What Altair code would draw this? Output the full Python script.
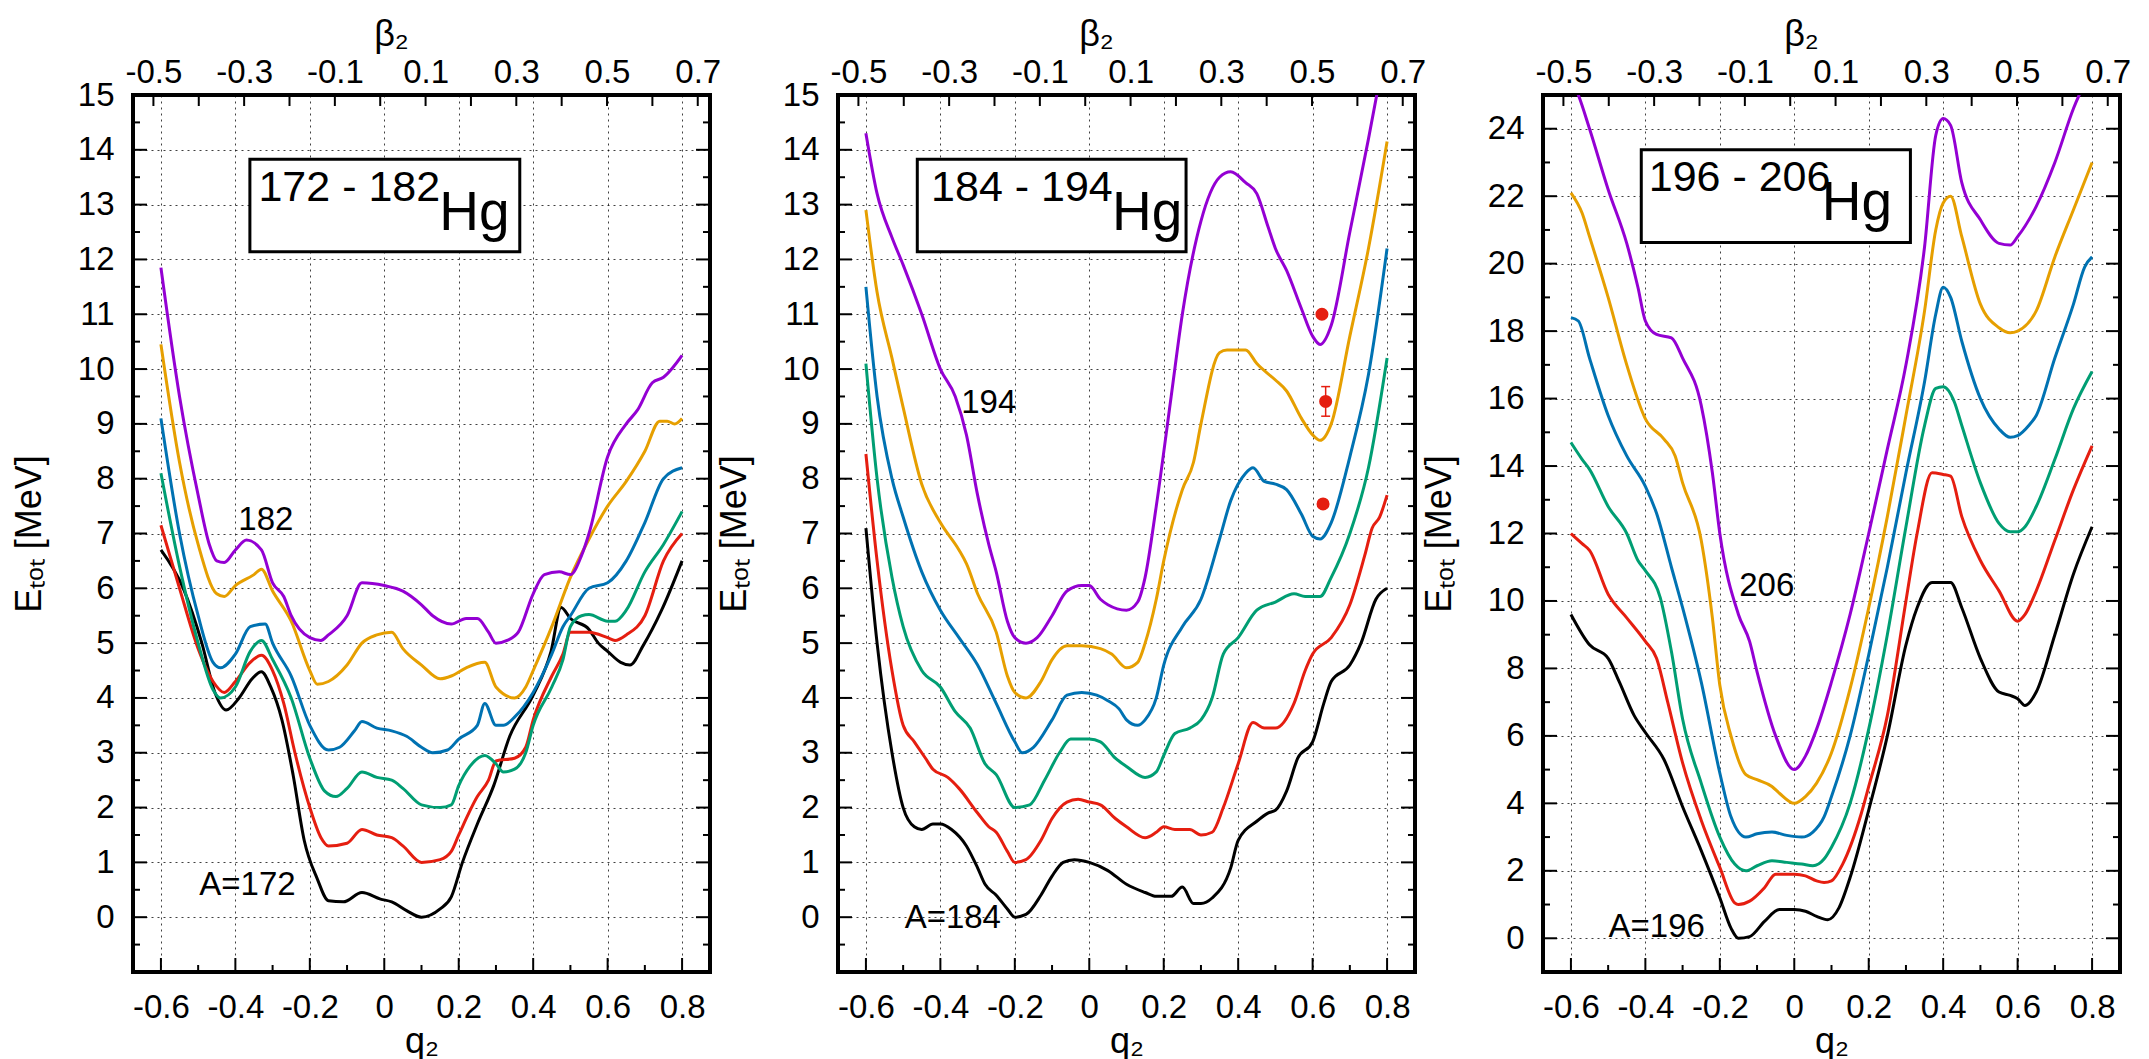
import altair as alt
import pandas as pd

FONT = "Liberation Sans"
COLORS = ["#000000", "#e51e10", "#009e73", "#0072b2", "#e69f00", "#9400d3"]

# ---------------- Panel 1 : 172-182 Hg ----------------
P1_172_Q = [-0.6, -0.54, -0.49, -0.455, -0.425, -0.39, -0.355, -0.33, -0.305, -0.275, -0.245, -0.215, -0.18, -0.15, -0.11, -0.06, -0.01, 0.02, 0.06, 0.1, 0.15, 0.18, 0.21, 0.25, 0.294, 0.337, 0.4, 0.448, 0.475, 0.5, 0.55, 0.575, 0.6, 0.635, 0.66, 0.695, 0.745, 0.8]
P1_172_E = [6.7, 6.0, 5.0, 4.1, 3.78, 4.0, 4.35, 4.48, 4.2, 3.6, 2.6, 1.4, 0.7, 0.3, 0.28, 0.45, 0.33, 0.28, 0.12, 0.0, 0.15, 0.37, 1.0, 1.7, 2.4, 3.3, 4.05, 4.85, 5.65, 5.45, 5.25, 5.0, 4.85, 4.65, 4.6, 4.95, 5.6, 6.5]
P1_174_Q = [-0.6, -0.55, -0.5, -0.46, -0.43, -0.4, -0.36, -0.33, -0.3, -0.27, -0.24, -0.2, -0.17, -0.15, -0.1, -0.06, -0.02, 0.02, 0.05, 0.1, 0.15, 0.18, 0.2, 0.25, 0.28, 0.3, 0.35, 0.38, 0.4, 0.45, 0.48, 0.5, 0.55, 0.6, 0.62, 0.65, 0.7, 0.75, 0.8]
P1_174_E = [7.15, 6.0, 4.9, 4.3, 4.1, 4.3, 4.65, 4.78, 4.5, 3.9, 3.0, 2.0, 1.45, 1.3, 1.35, 1.6, 1.5, 1.45, 1.3, 1.0, 1.05, 1.2, 1.5, 2.2, 2.5, 2.85, 2.9, 3.1, 3.6, 4.4, 4.8, 5.2, 5.2, 5.1, 5.05, 5.15, 5.5, 6.5, 7.0]
P1_176_Q = [-0.6, -0.55, -0.5, -0.46, -0.44, -0.4, -0.36, -0.33, -0.3, -0.25, -0.2, -0.16, -0.13, -0.1, -0.06, -0.02, 0.02, 0.05, 0.1, 0.15, 0.18, 0.2, 0.23, 0.27, 0.3, 0.32, 0.35, 0.38, 0.4, 0.45, 0.48, 0.5, 0.53, 0.55, 0.6, 0.62, 0.65, 0.7, 0.75, 0.8]
P1_176_E = [8.1, 6.4, 5.0, 4.15, 4.0, 4.2, 4.85, 5.05, 4.7, 4.0, 2.9, 2.3, 2.2, 2.35, 2.65, 2.55, 2.5, 2.35, 2.05, 2.0, 2.05, 2.4, 2.75, 2.95, 2.8, 2.65, 2.7, 3.0, 3.5, 4.2, 4.7, 5.3, 5.5, 5.52, 5.4, 5.4, 5.6, 6.3, 6.8, 7.4]
P1_178_Q = [-0.6, -0.55, -0.5, -0.46, -0.44, -0.4, -0.36, -0.32, -0.3, -0.25, -0.2, -0.15, -0.12, -0.08, -0.06, -0.02, 0.02, 0.06, 0.1, 0.13, 0.17, 0.2, 0.25, 0.27, 0.3, 0.32, 0.35, 0.4, 0.45, 0.48, 0.5, 0.55, 0.6, 0.65, 0.7, 0.75, 0.8]
P1_178_E = [9.1, 7.0, 5.5, 4.65, 4.55, 4.8, 5.3, 5.35, 5.0, 4.4, 3.5, 3.05, 3.1, 3.4, 3.57, 3.45, 3.4, 3.3, 3.1, 3.0, 3.05, 3.25, 3.5, 3.9, 3.5, 3.5, 3.65, 4.1, 4.8, 5.3, 5.5, 6.0, 6.1, 6.5, 7.2, 8.0, 8.2]
P1_180_Q = [-0.6, -0.55, -0.5, -0.45, -0.43, -0.4, -0.35, -0.33, -0.3, -0.25, -0.2, -0.18, -0.15, -0.1, -0.06, -0.02, 0.02, 0.05, 0.1, 0.15, 0.18, 0.22, 0.27, 0.3, 0.35, 0.38, 0.4, 0.45, 0.5, 0.55, 0.6, 0.65, 0.7, 0.74, 0.76, 0.78, 0.8]
P1_180_E = [10.45, 8.3, 6.8, 5.9, 5.85, 6.05, 6.25, 6.35, 5.95, 5.4, 4.5, 4.25, 4.3, 4.6, 5.0, 5.15, 5.2, 4.9, 4.6, 4.35, 4.4, 4.55, 4.65, 4.2, 4.0, 4.2, 4.5, 5.3, 6.2, 6.9, 7.5, 7.95, 8.5, 9.05, 9.05, 9.0, 9.1]
P1_182_Q = [-0.6, -0.55, -0.5, -0.47, -0.45, -0.43, -0.4, -0.37, -0.33, -0.3, -0.27, -0.25, -0.2, -0.17, -0.15, -0.1, -0.06, 0.0, 0.05, 0.1, 0.13, 0.18, 0.22, 0.25, 0.28, 0.3, 0.33, 0.36, 0.4, 0.43, 0.47, 0.5, 0.53, 0.55, 0.6, 0.65, 0.68, 0.72, 0.75, 0.8]
P1_182_E = [11.85, 9.5, 7.7, 6.8, 6.5, 6.47, 6.7, 6.88, 6.7, 6.1, 5.85, 5.5, 5.1, 5.05, 5.15, 5.5, 6.1, 6.05, 5.95, 5.7, 5.5, 5.35, 5.45, 5.45, 5.2, 5.0, 5.05, 5.2, 5.9, 6.25, 6.3, 6.25, 6.6, 7.0, 8.4, 9.0, 9.25, 9.75, 9.85, 10.25]

# ---------------- Panel 2 : 184-194 Hg ----------------
P2_184_Q = [-0.6, -0.57, -0.53, -0.5, -0.47, -0.45, -0.42, -0.4, -0.37, -0.33, -0.3, -0.28, -0.25, -0.22, -0.2, -0.17, -0.13, -0.1, -0.07, -0.04, 0.0, 0.05, 0.1, 0.15, 0.18, 0.22, 0.25, 0.28, 0.3, 0.33, 0.38, 0.4, 0.45, 0.48, 0.5, 0.53, 0.56, 0.6, 0.63, 0.65, 0.7, 0.73, 0.77, 0.8]
P2_184_E = [7.1, 5.0, 3.0, 2.0, 1.65, 1.6, 1.7, 1.7, 1.6, 1.3, 0.9, 0.6, 0.4, 0.15, 0.0, 0.05, 0.4, 0.75, 1.0, 1.05, 1.0, 0.85, 0.6, 0.45, 0.38, 0.38, 0.55, 0.25, 0.25, 0.35, 0.9, 1.4, 1.75, 1.9, 1.95, 2.3, 2.9, 3.2, 3.9, 4.3, 4.6, 5.0, 5.8, 6.0]
P2_186_Q = [-0.6, -0.57, -0.53, -0.5, -0.47, -0.44, -0.42, -0.38, -0.35, -0.3, -0.27, -0.25, -0.22, -0.2, -0.17, -0.13, -0.1, -0.06, -0.03, 0.0, 0.03, 0.07, 0.1, 0.15, 0.18, 0.2, 0.23, 0.27, 0.3, 0.33, 0.36, 0.4, 0.44, 0.47, 0.5, 0.55, 0.58, 0.6, 0.65, 0.7, 0.74, 0.76, 0.78, 0.8]
P2_186_E = [8.45, 6.5, 4.5, 3.5, 3.2, 2.9, 2.7, 2.55, 2.35, 1.9, 1.65, 1.55, 1.2, 1.0, 1.05, 1.4, 1.8, 2.1, 2.15, 2.1, 2.05, 1.8, 1.65, 1.45, 1.55, 1.65, 1.6, 1.6, 1.5, 1.55, 2.0, 2.8, 3.55, 3.45, 3.45, 3.9, 4.5, 4.8, 5.1, 5.7, 6.6, 7.1, 7.3, 7.7]
P2_188_Q = [-0.6, -0.57, -0.53, -0.5, -0.45, -0.4, -0.36, -0.32, -0.28, -0.25, -0.2, -0.16, -0.12, -0.08, -0.05, 0.0, 0.03, 0.07, 0.1, 0.15, 0.18, 0.2, 0.23, 0.27, 0.3, 0.33, 0.36, 0.4, 0.45, 0.5, 0.55, 0.58, 0.62, 0.65, 0.7, 0.75, 0.8]
P2_188_E = [10.1, 8.0, 6.2, 5.3, 4.5, 4.2, 3.75, 3.45, 2.8, 2.6, 2.0, 2.05, 2.5, 3.0, 3.25, 3.25, 3.2, 2.9, 2.75, 2.55, 2.65, 2.95, 3.35, 3.45, 3.6, 4.0, 4.8, 5.1, 5.6, 5.75, 5.9, 5.85, 5.85, 6.2, 7.0, 8.2, 10.2]
P2_190_Q = [-0.6, -0.57, -0.53, -0.5, -0.45, -0.4, -0.35, -0.3, -0.25, -0.2, -0.18, -0.15, -0.1, -0.06, -0.02, 0.02, 0.05, 0.08, 0.1, 0.13, 0.15, 0.18, 0.2, 0.25, 0.3, 0.35, 0.38, 0.42, 0.44, 0.47, 0.5, 0.53, 0.57, 0.6, 0.62, 0.65, 0.7, 0.75, 0.8]
P2_190_E = [11.5, 9.5, 8.0, 7.3, 6.3, 5.6, 5.1, 4.6, 3.9, 3.2, 3.0, 3.1, 3.6, 4.05, 4.1, 4.05, 3.95, 3.8, 3.6, 3.5, 3.6, 4.0, 4.6, 5.3, 5.8, 6.9, 7.6, 8.1, 8.2, 7.95, 7.9, 7.8, 7.35, 6.95, 6.9, 7.2, 8.4, 9.9, 12.2]
P2_192_Q = [-0.6, -0.57, -0.53, -0.5, -0.45, -0.4, -0.35, -0.33, -0.3, -0.25, -0.22, -0.2, -0.17, -0.13, -0.1, -0.06, -0.02, 0.03, 0.06, 0.1, 0.13, 0.15, 0.18, 0.2, 0.25, 0.28, 0.3, 0.35, 0.37, 0.42, 0.45, 0.5, 0.53, 0.57, 0.6, 0.62, 0.65, 0.7, 0.75, 0.8]
P2_192_E = [12.9, 11.4, 10.2, 9.3, 7.9, 7.2, 6.7, 6.45, 5.9, 5.2, 4.4, 4.1, 4.0, 4.3, 4.7, 4.95, 4.95, 4.9, 4.8, 4.55, 4.65, 5.0, 5.8, 6.5, 7.8, 8.3, 9.0, 10.3, 10.35, 10.35, 10.1, 9.8, 9.6, 9.1, 8.8, 8.7, 9.0, 10.6, 12.2, 14.15]
P2_194_Q = [-0.6, -0.57, -0.53, -0.5, -0.45, -0.4, -0.36, -0.33, -0.3, -0.27, -0.25, -0.22, -0.2, -0.17, -0.14, -0.1, -0.06, -0.02, 0.0, 0.03, 0.05, 0.1, 0.13, 0.15, 0.18, 0.22, 0.25, 0.3, 0.35, 0.38, 0.42, 0.45, 0.48, 0.5, 0.53, 0.57, 0.6, 0.62, 0.65, 0.7, 0.75, 0.8]
P2_194_E = [14.3, 13.2, 12.4, 11.9, 11.0, 10.0, 9.5, 8.8, 7.7, 6.8, 6.3, 5.4, 5.1, 5.0, 5.1, 5.5, 5.95, 6.05, 6.05, 5.8, 5.7, 5.6, 5.75, 6.2, 7.5, 9.5, 11.0, 12.7, 13.5, 13.6, 13.4, 13.2, 12.6, 12.2, 11.8, 11.1, 10.6, 10.45, 10.8, 12.5, 14.2, 16.0]

# ---------------- Panel 3 : 196-206 Hg ----------------
P3_196_Q = [-0.6, -0.55, -0.5, -0.47, -0.43, -0.4, -0.35, -0.3, -0.25, -0.2, -0.17, -0.15, -0.12, -0.08, -0.04, 0.0, 0.03, 0.06, 0.09, 0.12, 0.15, 0.2, 0.25, 0.3, 0.33, 0.37, 0.4, 0.42, 0.45, 0.5, 0.55, 0.58, 0.6, 0.62, 0.65, 0.7, 0.75, 0.8]
P3_196_E = [9.6, 8.7, 8.3, 7.6, 6.6, 6.1, 5.3, 3.9, 2.6, 1.2, 0.3, 0.0, 0.05, 0.5, 0.85, 0.85, 0.8, 0.65, 0.55, 0.9, 1.8, 3.8, 6.0, 8.7, 9.8, 10.55, 10.55, 10.55, 9.8, 8.3, 7.3, 7.2, 7.1, 6.9, 7.3, 9.0, 10.8, 12.2]
P3_198_Q = [-0.6, -0.57, -0.55, -0.5, -0.45, -0.4, -0.37, -0.34, -0.3, -0.25, -0.2, -0.16, -0.15, -0.12, -0.08, -0.05, 0.0, 0.03, 0.06, 0.08, 0.1, 0.13, 0.18, 0.2, 0.25, 0.3, 0.33, 0.37, 0.4, 0.42, 0.45, 0.5, 0.55, 0.6, 0.62, 0.65, 0.7, 0.75, 0.8]
P3_198_E = [12.0, 11.7, 11.5, 10.2, 9.5, 8.8, 8.3, 7.0, 5.2, 3.5, 2.1, 1.05, 1.0, 1.1, 1.5, 1.9, 1.9, 1.85, 1.7, 1.65, 1.7, 2.2, 3.7, 4.5, 6.6, 10.0, 12.0, 13.8, 13.75, 13.7, 12.5, 11.2, 10.3, 9.4, 9.6, 10.3, 11.8, 13.3, 14.6]
P3_200_Q = [-0.6, -0.57, -0.55, -0.5, -0.45, -0.42, -0.4, -0.36, -0.33, -0.3, -0.25, -0.2, -0.16, -0.13, -0.1, -0.06, -0.02, 0.02, 0.05, 0.08, 0.1, 0.15, 0.2, 0.25, 0.3, 0.35, 0.38, 0.4, 0.43, 0.45, 0.5, 0.55, 0.58, 0.6, 0.62, 0.65, 0.7, 0.75, 0.8]
P3_200_E = [14.7, 14.2, 13.9, 12.8, 12.0, 11.2, 10.9, 10.1, 8.5, 6.5, 4.6, 3.0, 2.2, 2.0, 2.15, 2.3, 2.25, 2.2, 2.15, 2.35, 2.7, 4.0, 6.2, 9.0, 12.2, 15.2, 16.3, 16.35, 15.9, 15.2, 13.5, 12.3, 12.05, 12.05, 12.2, 12.8, 14.2, 15.7, 16.8]
P3_202_Q = [-0.6, -0.58, -0.55, -0.5, -0.45, -0.4, -0.37, -0.33, -0.3, -0.25, -0.2, -0.17, -0.13, -0.1, -0.06, -0.02, 0.02, 0.05, 0.08, 0.1, 0.15, 0.2, 0.25, 0.3, 0.35, 0.38, 0.4, 0.42, 0.45, 0.5, 0.55, 0.58, 0.6, 0.63, 0.65, 0.7, 0.75, 0.78, 0.8]
P3_202_E = [18.4, 18.3, 17.2, 15.5, 14.3, 13.4, 12.6, 11.0, 9.8, 7.6, 4.9, 3.6, 3.0, 3.1, 3.15, 3.05, 3.0, 3.15, 3.6, 4.2, 6.0, 8.4, 11.0, 13.8, 16.5, 18.5, 19.3, 19.0, 17.7, 16.0, 15.1, 14.85, 14.9, 15.2, 15.5, 17.2, 18.8, 19.9, 20.2]
P3_204_Q = [-0.6, -0.57, -0.55, -0.5, -0.45, -0.4, -0.35, -0.32, -0.3, -0.25, -0.22, -0.2, -0.17, -0.13, -0.1, -0.06, -0.04, 0.0, 0.03, 0.06, 0.1, 0.15, 0.2, 0.25, 0.3, 0.35, 0.38, 0.4, 0.42, 0.45, 0.5, 0.55, 0.58, 0.6, 0.65, 0.7, 0.75, 0.8]
P3_204_E = [22.1, 21.5, 20.8, 19.0, 17.0, 15.4, 14.8, 14.3, 13.5, 11.8, 9.5, 7.5, 6.0, 4.85, 4.7, 4.5, 4.3, 4.0, 4.2, 4.6, 5.5, 7.4, 9.8, 12.5, 15.5, 18.6, 21.0, 21.8, 22.0, 20.8, 18.8, 18.1, 17.95, 18.0, 18.6, 20.2, 21.6, 23.0]
P3_206_Q = [-0.6, -0.58, -0.55, -0.5, -0.45, -0.42, -0.4, -0.37, -0.33, -0.3, -0.25, -0.22, -0.2, -0.15, -0.12, -0.1, -0.05, 0.0, 0.03, 0.06, 0.1, 0.15, 0.2, 0.25, 0.3, 0.35, 0.38, 0.4, 0.42, 0.45, 0.5, 0.55, 0.58, 0.6, 0.65, 0.7, 0.75, 0.8]
P3_206_E = [25.5, 25.0, 24.0, 22.2, 20.6, 19.3, 18.3, 17.9, 17.8, 17.2, 15.8, 13.8, 12.0, 9.6, 8.8, 7.9, 6.0, 5.0, 5.4, 6.2, 7.6, 9.6, 12.0, 14.5, 17.0, 20.5, 23.8, 24.3, 24.1, 22.4, 21.3, 20.6, 20.55, 20.8, 21.7, 23.0, 24.6, 25.8]

# experimental points (panel 2)
EXP_Q = [0.625, 0.635, 0.628]
EXP_E = [11.0, 9.41, 7.54]
EXP_ERR_Q = [0.635]
EXP_ERR_LO = [9.14]
EXP_ERR_HI = [9.68]

# axes
X_DOMAIN = [-0.675, 0.875]
B_DOMAIN = [-0.545, 0.727]
X_MAJOR = [-0.6, -0.4, -0.2, 0, 0.2, 0.4, 0.6, 0.8]
X_MINOR = [-0.5, -0.3, -0.1, 0.1, 0.3, 0.5, 0.7]
B_TICKS = [-0.5, -0.4, -0.3, -0.2, -0.1, 0.0, 0.1, 0.2, 0.3, 0.4, 0.5, 0.6, 0.7]
B_LABELS = [-0.5, -0.3, -0.1, 0.1, 0.3, 0.5, 0.7]
Y12_MAJOR = list(range(0, 16))
Y12_MINOR = [v + 0.5 for v in range(-1, 15)]
Y3_MAJOR = list(range(0, 25, 2))
Y3_MINOR = list(range(-1, 25, 2))

W, H = 577, 877
LBL = 33
TTL = 36


def panel(curves, masses, ydom, ymaj, ymin, notes, box, numtxt, hgtxt, exp=False):
    rows = []
    for i, (qs, es) in enumerate(curves):
        for q, e in zip(qs, es):
            rows.append({"q": q, "E": e, "s": str(masses[i])})
    df = pd.DataFrame(rows)

    def xs():
        return alt.Scale(domain=X_DOMAIN, nice=False, zero=False)
    ys = alt.Scale(domain=ydom, nice=False, zero=False)
    xaxis = alt.Axis(values=X_MAJOR, labelExpr="datum.value + ''", title="q₂",
                     grid=True, ticks=False, tickSize=0, domain=False,
                     labelPadding=19, titlePadding=0)
    yaxis = alt.Axis(values=ymaj, title="Eₜₒₜ  [MeV]", grid=True, ticks=False,
                     tickSize=0, domain=False, labelPadding=19, titlePadding=29)

    def Y(field):
        return alt.Y(field, scale=ys, axis=yaxis)

    lines = alt.Chart(df).mark_line(clip=True, interpolate="monotone", strokeWidth=3).encode(
        x=alt.X("q:Q", scale=xs(), axis=xaxis),
        y=Y("E:Q"),
        color=alt.Color("s:N", scale=alt.Scale(domain=[str(m) for m in masses], range=COLORS), legend=None),
    )

    # inward ticks
    bx_major = alt.Chart(pd.DataFrame({"q": X_MAJOR})).mark_rule(color="black", strokeWidth=2).encode(
        x=alt.X("q:Q", scale=xs(), axis=None), y=alt.value(H), y2=alt.value(H - 14))
    bx_minor = alt.Chart(pd.DataFrame({"q": X_MINOR})).mark_rule(color="black", strokeWidth=2).encode(
        x=alt.X("q:Q", scale=xs(), axis=None), y=alt.value(H), y2=alt.value(H - 7))
    ly_major = alt.Chart(pd.DataFrame({"E": ymaj})).mark_rule(color="black", strokeWidth=2).encode(
        y=Y("E:Q"), x=alt.value(0), x2=alt.value(14))
    ly_minor = alt.Chart(pd.DataFrame({"E": ymin})).mark_rule(color="black", strokeWidth=2).encode(
        y=Y("E:Q"), x=alt.value(0), x2=alt.value(7))
    ry_major = alt.Chart(pd.DataFrame({"E": ymaj})).mark_rule(color="black", strokeWidth=2).encode(
        y=Y("E:Q"), x=alt.value(W), x2=alt.value(W - 14))
    ry_minor = alt.Chart(pd.DataFrame({"E": ymin})).mark_rule(color="black", strokeWidth=2).encode(
        y=Y("E:Q"), x=alt.value(W), x2=alt.value(W - 7))

    # label box
    bdf = pd.DataFrame([{"x": box[0], "x2": box[1], "E": box[2], "E2": box[3]}])
    rect = alt.Chart(bdf).mark_rect(fill="white", stroke="black", strokeWidth=3).encode(
        x=alt.X("x:Q", scale=xs(), axis=None), x2="x2:Q",
        y=Y("E:Q"), y2="E2:Q")
    num = alt.Chart(pd.DataFrame([numtxt])).mark_text(
        align="left", baseline="alphabetic", fontSize=43, font=FONT, color="black").encode(
        x=alt.X("q:Q", scale=xs(), axis=None), y=Y("E:Q"), text="t:N")
    hg = alt.Chart(pd.DataFrame([hgtxt])).mark_text(
        align="left", baseline="alphabetic", fontSize=55, font=FONT, color="black").encode(
        x=alt.X("q:Q", scale=xs(), axis=None), y=Y("E:Q"), text="t:N")
    note = alt.Chart(pd.DataFrame(notes)).mark_text(
        align="left", baseline="alphabetic", fontSize=LBL, font=FONT, color="black").encode(
        x=alt.X("q:Q", scale=xs(), axis=None), y=Y("E:Q"), text="t:N")

    layers = [lines, bx_major, bx_minor, ly_major, ly_minor, ry_major, ry_minor, rect, num, hg, note]
    if exp:
        edf = pd.DataFrame({"q": EXP_Q, "E": EXP_E})
        pts = alt.Chart(edf).mark_point(filled=True, size=170, color="#e51e10", opacity=1).encode(
            x=alt.X("q:Q", scale=xs(), axis=None), y=Y("E:Q"))
        err_df = pd.DataFrame({"q": EXP_ERR_Q, "E": EXP_ERR_LO, "E2": EXP_ERR_HI})
        err = alt.Chart(err_df).mark_rule(color="#e51e10", strokeWidth=1.5).encode(
            x=alt.X("q:Q", scale=xs(), axis=None), y=Y("E:Q"), y2="E2:Q")
        cap_df = pd.DataFrame({"a": [EXP_ERR_Q[0] - 0.012, EXP_ERR_Q[0] - 0.012],
                               "b": [EXP_ERR_Q[0] + 0.012, EXP_ERR_Q[0] + 0.012],
                               "E": [EXP_ERR_LO[0], EXP_ERR_HI[0]]})
        caps = alt.Chart(cap_df).mark_rule(color="#e51e10", strokeWidth=1.5).encode(
            x=alt.X("a:Q", scale=xs(), axis=None), x2="b:Q", y=Y("E:Q"))
        layers += [err, caps, pts]

    beta = alt.Chart(pd.DataFrame({"b": B_TICKS})).mark_rule(color="black", strokeWidth=2).encode(
        x=alt.X("b:Q", scale=alt.Scale(domain=B_DOMAIN, nice=False, zero=False),
                axis=alt.Axis(orient="top", values=B_LABELS, labelExpr="datum.value + ''",
                              title="β₂", grid=False, ticks=False, tickSize=0, domain=False,
                              labelPadding=6, titlePadding=3, titleX=258)),
        y=alt.value(0), y2=alt.value(11))
    layers.append(beta)

    return alt.layer(*layers).resolve_scale(x="independent").properties(width=W, height=H)


p1 = panel(
    [(P1_172_Q, P1_172_E), (P1_174_Q, P1_174_E), (P1_176_Q, P1_176_E),
     (P1_178_Q, P1_178_E), (P1_180_Q, P1_180_E), (P1_182_Q, P1_182_E)],
    [172, 174, 176, 178, 180, 182], [-1, 15], Y12_MAJOR, Y12_MINOR,
    [{"q": -0.392, "E": 7.07, "t": "182"}, {"q": -0.497, "E": 0.4, "t": "A=172"}],
    (-0.361, 0.364, 12.14, 13.83),
    {"q": -0.338, "E": 13.07, "t": "172 - 182"}, {"q": 0.148, "E": 12.54, "t": "Hg"})

p2 = panel(
    [(P2_184_Q, P2_184_E), (P2_186_Q, P2_186_E), (P2_188_Q, P2_188_E),
     (P2_190_Q, P2_190_E), (P2_192_Q, P2_192_E), (P2_194_Q, P2_194_E)],
    [184, 186, 188, 190, 192, 194], [-1, 15], Y12_MAJOR, Y12_MINOR,
    [{"q": -0.344, "E": 9.2, "t": "194"}, {"q": -0.496, "E": -0.19, "t": "A=184"}],
    (-0.462, 0.26, 12.14, 13.83),
    {"q": -0.425, "E": 13.07, "t": "184 - 194"}, {"q": 0.061, "E": 12.54, "t": "Hg"}, exp=True)

p3 = panel(
    [(P3_196_Q, P3_196_E), (P3_198_Q, P3_198_E), (P3_200_Q, P3_200_E),
     (P3_202_Q, P3_202_E), (P3_204_Q, P3_204_E), (P3_206_Q, P3_206_E)],
    [196, 198, 200, 202, 204, 206], [-1, 25], Y3_MAJOR, Y3_MINOR,
    [{"q": -0.148, "E": 10.16, "t": "206"}, {"q": -0.499, "E": 0.04, "t": "A=196"}],
    (-0.411, 0.312, 20.63, 23.38),
    {"q": -0.391, "E": 22.14, "t": "196 - 206"}, {"q": 0.074, "E": 21.29, "t": "Hg"})

chart = alt.hconcat(p1, p2, p3, spacing=128, bounds="flush").properties(
    padding={"left": 9, "top": 14, "right": 5, "bottom": 5},
    background="white"
).configure_view(
    stroke="black", strokeWidth=4
).configure_axis(
    labelFont=FONT, titleFont=FONT, labelFontSize=LBL, titleFontSize=TTL,
    labelColor="black", titleColor="black", titleFontWeight="normal",
    gridColor="black", gridDash=[2, 4], gridWidth=1, gridOpacity=0.75,
    labelFlush=False, labelOverlap=False
)

chart.save("out.html", embed_options={"renderer": "svg", "actions": False})
